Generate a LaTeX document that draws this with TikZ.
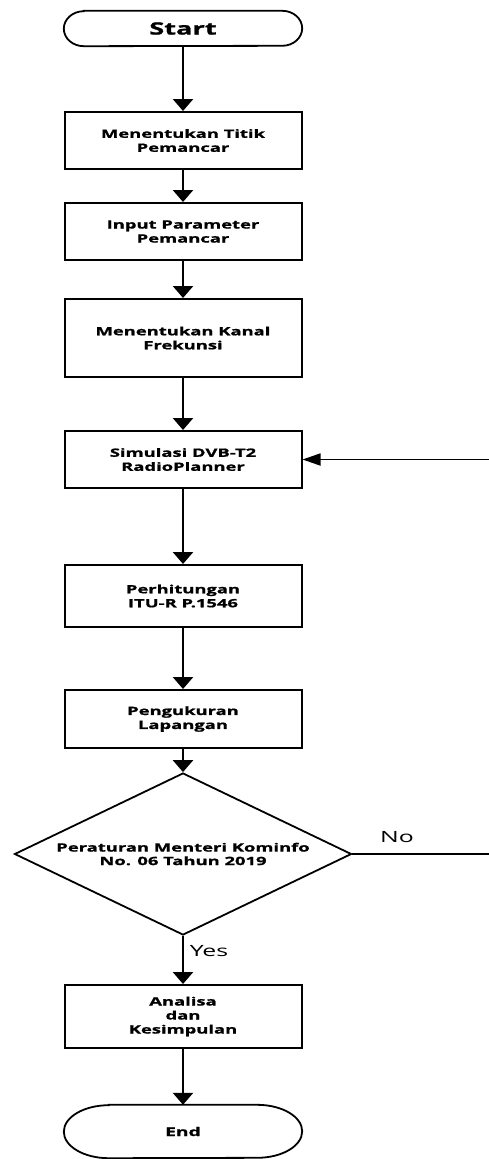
\documentclass[tikz,border=0pt]{standalone}
\usepackage{fontspec}
\setmainfont{Open Sans}[FakeStretch=1.6, BoldFeatures={FakeBold=1.2}]
\usetikzlibrary{arrows.meta,shapes.geometric}

\begin{document}
\begin{tikzpicture}[x=1pt, y=1pt, >={Triangle[width=20pt,length=12pt]}, line join=miter,
	proc/.style={draw, line width=2pt, minimum width=237pt, inner sep=2pt, align=center,
		font=\bfseries\fontsize{11.5}{14}\selectfont},
	decis/.style={diamond, draw, line width=1.8pt, minimum width=337pt, minimum height=162pt,
		inner sep=0pt},
	termnode/.style={inner sep=0pt, minimum width=238pt},
	flow/.style={->, line width=2.6pt},
	lbl/.style={font=\fontsize{15.5}{18}\selectfont}]
	\useasboundingbox (0,0) rectangle (489,-1159);
	% terminators
	\node[termnode, minimum height=35pt, font=\bfseries\fontsize{17}{20}\selectfont] (st) at (183,-28.5) {Start};
	\draw[line width=1.8pt] ([xshift=20pt]st.north west) -- ([xshift=-20pt]st.north east)
		arc (90:-90:20pt and 17.5pt) -- ([xshift=20pt]st.south west)
		arc (270:90:20pt and 17.5pt) -- cycle;
	\node[termnode, minimum height=53pt, font=\bfseries\fontsize{12}{14}\selectfont] (en) at (183,-1131.5) {End};
	\draw[line width=1.8pt] ([xshift=45pt]en.north west) -- ([xshift=-45pt]en.north east)
		arc (90:-90:45pt and 26.5pt) -- ([xshift=45pt]en.south west)
		arc (270:90:45pt and 26.5pt) -- cycle;
	% process boxes
	\node[proc, minimum height=57pt] (b1) at (183,-140.5) {Menentukan Titik\\Pemancar};
	\node[proc, minimum height=57pt] (b2) at (183,-231.5) {Input Parameter\\Pemancar};
	\node[proc, minimum height=78pt] (b3) at (183,-338) {Menentukan Kanal\\Frekunsi};
	\node[proc, minimum height=57pt] (b4) at (183,-459.5) {Simulasi DVB-T2\\RadioPlanner};
	\node[proc, minimum height=62pt] (b5) at (183,-596) {Perhitungan\\ITU-R P.1546};
	\node[proc, minimum height=58pt] (b6) at (183,-719) {Pengukuran\\Lapangan};
	\node[decis, label={[align=center, font=\bfseries\fontsize{11.5}{13.5}\selectfont]center:Peraturan Menteri Kominfo\\No. 06 Tahun 2019}] (dec) at (183,-854) {};
	\node[proc, minimum height=63pt] (b7) at (183,-1016.5) {Analisa\\dan\\Kesimpulan};
	% arrows
	\draw[flow] (st) -- (b1);
	\draw[flow] (b1) -- (b2);
	\draw[flow] (b2) -- (b3);
	\draw[flow] (b3) -- (b4);
	\draw[flow] (b4) -- (b5);
	\draw[flow] (b5) -- (b6);
	\draw[flow] (b6) -- (dec);
	\draw[flow] (dec) -- (b7);
	\draw[flow] (b7) -- (en);
	% feedback
	\coordinate (nr) at (490,-854);
	\draw[line width=1.8pt, -{Triangle[width=12pt,length=18pt]}] (dec.east) -- (nr) |- (b4.east);
	\node[lbl] (no) at (397,-837) {No};
	\node[lbl] (yes) at (209,-951) {Yes};
\end{tikzpicture}
\end{document}
